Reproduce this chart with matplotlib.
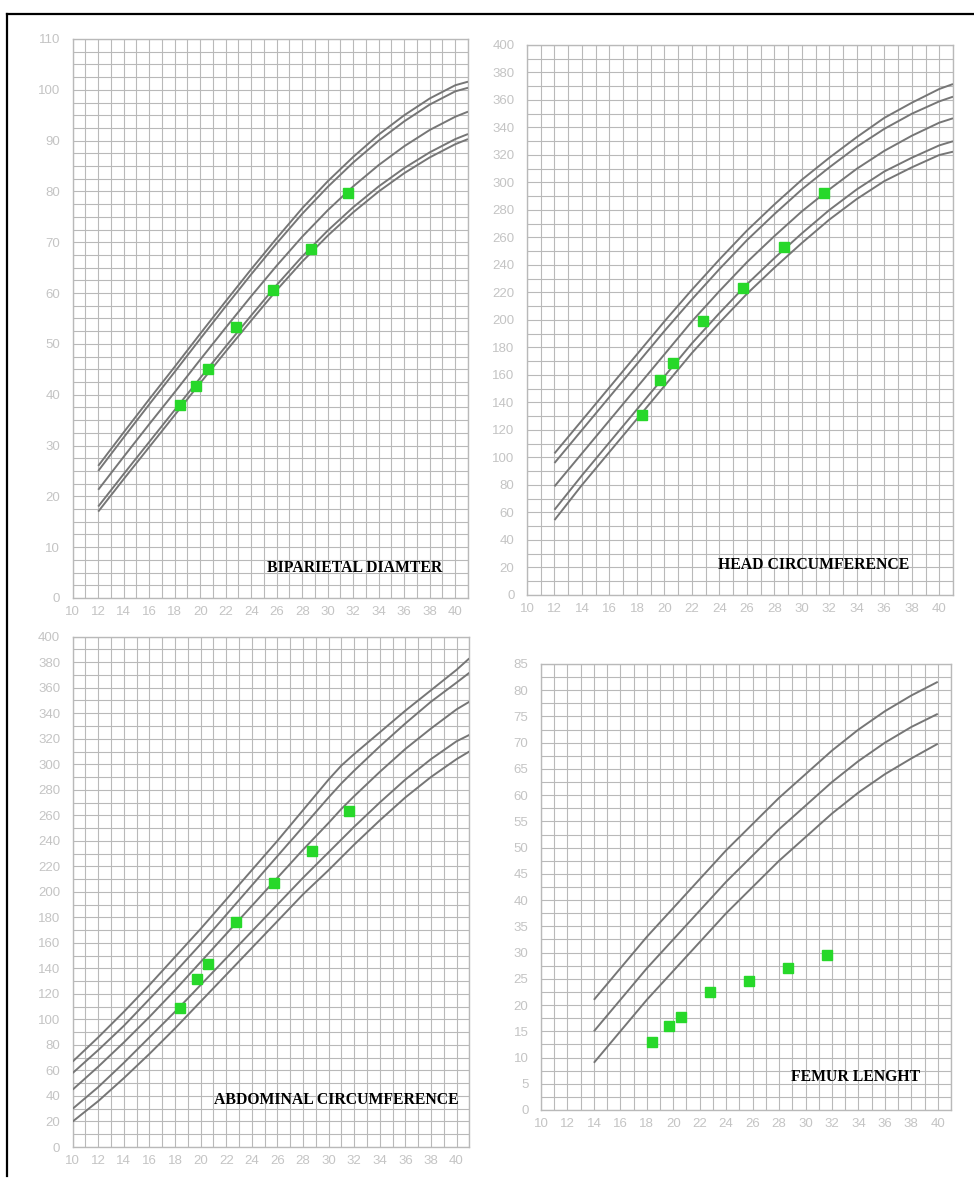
import numpy as np
import matplotlib
matplotlib.use("Agg")
import matplotlib.pyplot as plt
from matplotlib.lines import Line2D

# gestational age of the exams (weeks)
visit_weeks = [18.4, 19.7, 20.6, 22.8, 25.7, 28.7, 31.6]

# biparietal diameter (mm)
bpd_weeks = [12, 14, 16, 18, 20, 22, 24, 26, 28, 30, 32, 34, 36, 38, 40, 41]
bpd_c1 = [26.0, 32.6, 39.1, 45.5, 52.0, 58.4, 64.7, 70.8, 76.7, 82.0, 86.8, 91.2, 95.0, 98.3, 100.9, 101.6]
bpd_c2 = [25.0, 31.6, 38.1, 44.5, 51.0, 57.4, 63.7, 69.8, 75.6, 80.9, 85.7, 90.0, 93.8, 97.1, 99.7, 100.4]
bpd_c3 = [21.3, 27.8, 34.2, 40.5, 46.9, 53.2, 59.4, 65.4, 71.1, 76.3, 81.0, 85.2, 88.9, 92.1, 94.7, 95.7]
bpd_c4 = [18.0, 24.4, 30.7, 37.0, 43.3, 49.5, 55.6, 61.6, 67.2, 72.3, 76.9, 81.0, 84.6, 87.7, 90.3, 91.3]
bpd_c5 = [17.0, 23.4, 29.7, 36.0, 42.3, 48.5, 54.6, 60.6, 66.2, 71.3, 75.9, 80.0, 83.6, 86.7, 89.3, 90.3]
bpd_pts = [38.0, 41.8, 45.0, 53.3, 60.7, 68.6, 79.7]

# head circumference (mm)
hc_weeks = [12, 14, 16, 18, 20, 22, 24, 26, 28, 30, 32, 34, 36, 38, 40, 41]
hc_c1 = [103, 127, 151, 175, 199, 222, 244, 265, 284, 302, 318, 333, 347, 358, 368, 371.6]
hc_c2 = [96, 120, 144, 168, 192, 215, 237, 258, 277, 295, 311, 326, 339, 350, 359, 362.4]
hc_c3 = [79, 103, 127, 151, 175, 199, 221, 242, 261, 279, 295, 310, 323, 334, 343.5, 346.7]
hc_c4 = [62, 87, 111, 135, 159, 183, 205, 226, 245, 263, 280, 295, 308, 318, 327, 330]
hc_c5 = [54.5, 80, 104, 128, 152, 176, 198, 219, 238, 256, 273, 288, 301, 311, 320, 322.4]
hc_pts = [130.9, 156.4, 168.5, 199.0, 223.5, 253.3, 292.0]

# abdominal circumference (mm)
ac_weeks = [10, 12, 14, 16, 18, 20, 22, 24, 26, 28, 30, 31, 32, 34, 36, 38, 40, 41]
ac_c1 = [67, 86, 106, 127, 149, 171, 194, 217, 240, 264, 288, 299, 308, 325, 342, 358, 374, 383]
ac_c2 = [58, 76, 95, 116, 137, 159, 182, 205, 228, 251, 274, 285, 295, 314, 332, 349, 364, 371.7]
ac_c3 = [45, 63, 82, 102, 123, 145, 167, 189, 211, 233, 254, 265, 275, 294, 312, 328, 343, 349]
ac_c4 = [30, 47, 66, 86, 106, 127, 148, 169, 190, 211, 231, 241, 251, 270, 288, 304, 318, 323]
ac_c5 = [20, 36, 54, 73, 93, 114, 135, 156, 177, 198, 217, 227, 237, 256, 274, 290, 304, 310]
ac_pts = [108.7, 131.7, 143.8, 176.7, 206.7, 232.0, 263.3]

# femur length (mm)
fl_weeks = [14, 16, 18, 20, 22, 24, 26, 28, 30, 32, 34, 36, 38, 40]
fl_c1 = [21, 27, 33, 38.5, 44, 49.5, 54.5, 59.5, 64, 68.5, 72.5, 76, 79, 81.6]
fl_c2 = [15, 21, 27, 32.5, 38, 43.5, 48.5, 53.5, 58, 62.5, 66.5, 70, 73, 75.5]
fl_c3 = [9, 15, 21, 26.5, 32, 37.5, 42.5, 47.5, 52, 56.5, 60.5, 64, 67, 69.8]
fl_pts = [13.0, 16.1, 17.7, 22.4, 24.5, 27.0, 29.5]

W, H = 974, 1187
GRID = "#b9b9b9"
CURVE = "#767676"
GREEN = "#27d82a"
TICKC = "#c4c4c4"

fig = plt.figure(figsize=(W / 100, H / 100), dpi=100)
fig.patch.set_facecolor("white")


def make_axes(left, right, top, bottom):
    # pixel box -> figure fraction
    return fig.add_axes([left / W, 1 - bottom / H, (right - left) / W, (bottom - top) / H])


def setup(ax, ymax, ymajor, yminor, title, tx, ty):
    ax.set_xlim(10, 41)
    ax.set_ylim(0, ymax)
    ax.set_xticks(np.arange(10, 41, 2))
    ax.set_xticks(np.arange(10, 42, 1), minor=True)
    ax.set_yticks(np.arange(0, ymax + 0.1, ymajor))
    ax.set_yticks(np.arange(0, ymax + 0.1, yminor), minor=True)
    ax.grid(which="both", color=GRID, lw=0.8)
    ax.set_axisbelow(True)
    for s in ax.spines.values():
        s.set_color(GRID)
        s.set_linewidth(1.0)
    ax.tick_params(which="both", length=0)
    ax.tick_params(axis="x", pad=6)
    ax.tick_params(axis="y", pad=9)
    for lab in ax.get_xticklabels() + ax.get_yticklabels():
        lab.set_color(TICKC)
        lab.set_fontsize(9.5)
        lab.set_family("Liberation Sans")
    ax.text(tx, ty, title, transform=ax.transAxes, ha="center", va="center",
            fontsize=11.3, fontweight="bold", family="Liberation Serif", color="black")


def curves(ax, x, series):
    for s in series:
        ax.plot(x, s, color=CURVE, lw=1.4, solid_capstyle="butt", zorder=3)


def points(ax, y):
    ax.plot(visit_weeks, y, ls="none", marker="s", ms=7, color=GREEN, mec=GREEN, zorder=4)


ax1 = make_axes(72.7, 468, 39, 598)
setup(ax1, 110, 10, 2.5, "BIPARIETAL DIAMTER", 0.713, 0.054)
curves(ax1, bpd_weeks, [bpd_c1, bpd_c2, bpd_c3, bpd_c4, bpd_c5])
points(ax1, bpd_pts)

ax2 = make_axes(527, 953, 45, 595)
setup(ax2, 400, 20, 10, "HEAD CIRCUMFERENCE", 0.674, 0.055)
curves(ax2, hc_weeks, [hc_c1, hc_c2, hc_c3, hc_c4, hc_c5])
points(ax2, hc_pts)

ax3 = make_axes(72.7, 469.3, 636.7, 1147)
setup(ax3, 400, 20, 10, "ABDOMINAL CIRCUMFERENCE", 0.665, 0.092)
curves(ax3, ac_weeks, [ac_c1, ac_c2, ac_c3, ac_c4, ac_c5])
points(ax3, ac_pts)

ax4 = make_axes(541, 951, 664, 1110)
setup(ax4, 85, 5, 2.5, "FEMUR LENGHT", 0.768, 0.074)
curves(ax4, fl_weeks, [fl_c1, fl_c2, fl_c3])
points(ax4, fl_pts)

# black frame on top and left of the picture
fig.add_artist(Line2D([7 / W, 1], [1 - 14 / H, 1 - 14 / H], color="black", lw=1.6))
fig.add_artist(Line2D([7 / W, 7 / W], [1 - 14 / H, 1 - 1176 / H], color="black", lw=1.6))

fig.savefig("out.png", dpi=100, facecolor="white")
